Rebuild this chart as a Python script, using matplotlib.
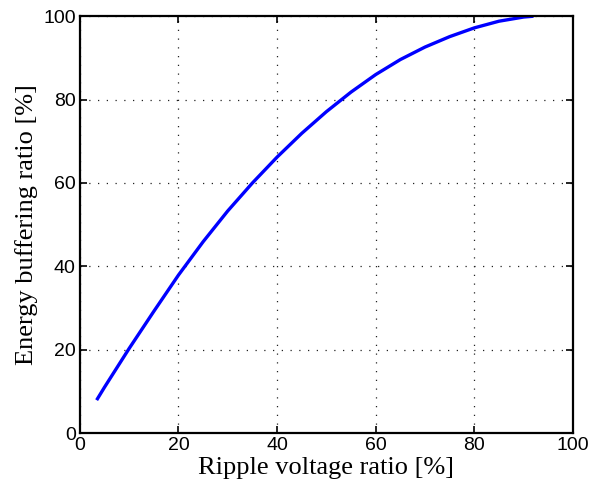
import matplotlib
matplotlib.use("Agg")
import matplotlib.pyplot as plt

# values
ripple = [3.4, 5, 10, 15, 20, 25, 30, 35, 40, 45, 50, 55, 60, 65, 70, 75, 80, 85, 90, 92]
energy = [7.9, 11.0, 20.3, 29.2, 37.9, 45.9, 53.3, 60.0, 66.2, 71.9, 77.1, 81.8, 86.0,
          89.6, 92.6, 95.1, 97.2, 98.8, 99.8, 100.0]
ticks = [0, 20, 40, 60, 80, 100]

fig = plt.figure(figsize=(6.05, 4.91), dpi=100)
ax = fig.add_axes([0.132, 0.118, 0.815, 0.849])

ax.plot(ripple, energy, color='#0000ff', linewidth=2.4, solid_capstyle='butt',
        solid_joinstyle='round')

ax.set_xlim(0, 100)
ax.set_ylim(0, 100)
ax.set_xticks(ticks)
ax.set_yticks(ticks)
ax.grid(True, linestyle=(0, (1, 6)), color='#222222', linewidth=0.9)
ax.tick_params(direction='in', top=True, right=True, length=5, width=1.2,
               labelsize=14, pad=3)
for lab in ax.get_xticklabels() + ax.get_yticklabels():
    lab.set_family('Liberation Sans')
for s in ax.spines.values():
    s.set_linewidth(1.6)

ax.set_xlabel('Ripple voltage ratio [%]', family='Liberation Serif', fontsize=19, labelpad=2)
ax.set_ylabel('Energy buffering ratio [%]', family='Liberation Serif', fontsize=19, labelpad=4)

fig.savefig('out.png', dpi=100)
